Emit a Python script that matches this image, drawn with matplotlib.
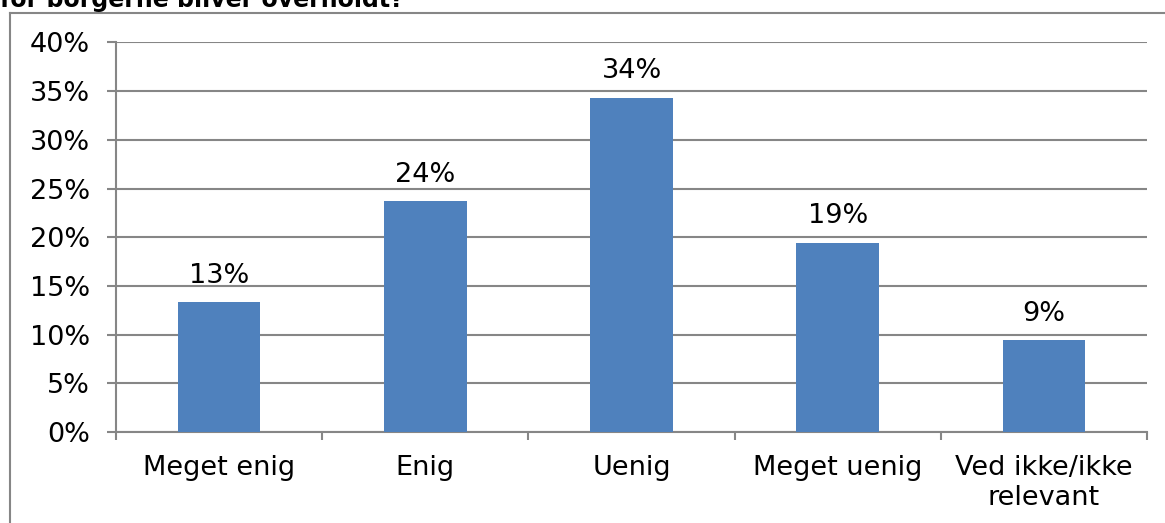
import numpy as np
import matplotlib.pyplot as plt
from matplotlib.lines import Line2D

categories = ["Meget enig", "Enig", "Uenig", "Meget uenig", "Ved ikke/ikke\nrelevant"]
values = [13.3, 23.7, 34.3, 19.4, 9.4]
labels = ["13%", "24%", "34%", "19%", "9%"]
yticks = [0, 5, 10, 15, 20, 25, 30, 35, 40]

W, H = 1165, 523
fig = plt.figure(figsize=(W / 100, H / 100), dpi=100)
plt.rcParams['font.family'] = ['DejaVu Sans']

grey = '#868686'
bar_col = '#4f81bd'
fs = 19.5

# chart frame (partly cut off)
fig.add_artist(Line2D([10 / W, 10 / W], [0, 1 - 13 / H], transform=fig.transFigure, color=grey, lw=1.5))
fig.add_artist(Line2D([10 / W, 1], [1 - 13 / H, 1 - 13 / H], transform=fig.transFigure, color=grey, lw=1.5))

fig.text(0.0, 1 - 7 / H, "for borgerne bliver overholdt?", fontsize=17, fontweight='bold', va='baseline', ha='left')

ax = fig.add_axes([116 / W, 1 - 432 / H, (1147 - 116) / W, (432 - 42.5) / H])
x = np.arange(len(categories))
ax.bar(x, values, width=0.4, color=bar_col, zorder=3)
for xi, v, lab in zip(x, values, labels):
    ax.text(xi, v + 1.4, lab, ha='center', va='bottom', fontsize=fs)

ax.set_xlim(-0.5, len(categories) - 0.5)
ax.set_ylim(0, 40)
ax.set_yticks(yticks)
ax.set_yticklabels([f"{t}%" for t in yticks], fontsize=fs)
ax.yaxis.grid(True, color=grey, lw=1.5, zorder=0)
ax.set_axisbelow(True)

ax.set_xticks(np.arange(-0.5, len(categories), 1.0))
ax.set_xticklabels([])
ax.set_xticks(x, minor=True)
ax.set_xticklabels(categories, minor=True, fontsize=fs)
ax.tick_params(axis='x', which='minor', length=0, pad=16.5)
ax.tick_params(axis='x', which='major', length=6, color=grey, width=1.5, direction='out')
ax.tick_params(axis='y', length=6.5, color=grey, width=1.5, pad=12)

for s in ['top', 'right']:
    ax.spines[s].set_visible(False)
for s in ['left', 'bottom']:
    ax.spines[s].set_color(grey)
    ax.spines[s].set_linewidth(1.5)

fig.savefig('out.png', dpi=100)
